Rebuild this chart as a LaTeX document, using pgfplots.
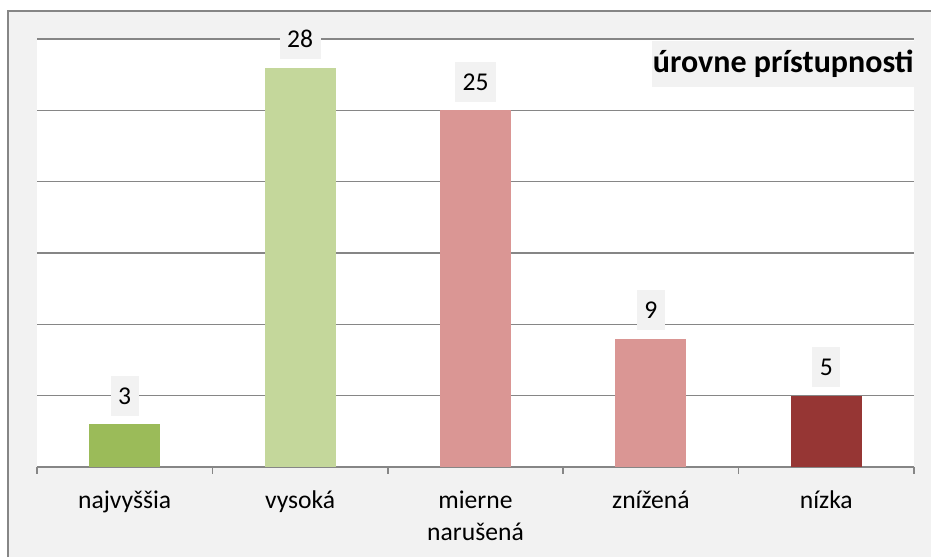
\documentclass[border=0pt]{standalone}
\usepackage{fontspec}
\setmainfont{Carlito}
\usepackage{pgfplots}
\pgfplotsset{compat=1.18}
\definecolor{bg}{HTML}{F2F2F2}
\definecolor{gridc}{HTML}{868686}
\definecolor{cA}{HTML}{9BBB59}
\definecolor{cB}{HTML}{C4D79B}
\definecolor{cC}{HTML}{DA9694}
\definecolor{cD}{HTML}{DA9694}
\definecolor{cE}{HTML}{963634}
\begin{document}
\begin{tikzpicture}
\useasboundingbox (0,0) rectangle (465.5pt,278.5pt);
\fill[white] (0,0) rectangle (465.5pt,278.5pt);
\fill[bg] (4pt,0) rectangle (465.5pt,273pt);
\draw[gridc, line width=1pt] (4pt,0) -- (4pt,273pt) -- (465.5pt,273pt);
\begin{axis}[
  at={(18.5pt,45pt)}, anchor=south west, scale only axis,
  width=438.5pt, height=214pt,
  xmin=-0.5, xmax=4.5, ymin=0, ymax=30,
  /pgf/number format/assume math mode=true,
  axis background/.style={fill=white},
  axis x line*=bottom, axis y line*=left,
  x axis line style={draw=gridc, line width=0.75pt},
  y axis line style={draw=none},
  ytick={5,10,15,20,25,30}, yticklabels={},
  ytick style={draw=none},
  ymajorgrids, major grid style={draw=gridc, line width=0.75pt},
  xtick={-0.5,0.5,1.5,2.5,3.5,4.5},
  xticklabels={},
  xtick style={draw=gridc, line width=0.75pt},
  major tick length=3.5pt,
  tick align=outside,
  extra x ticks={0,1,2,3,4},
  extra x tick labels={\strut najvyššia,\strut vysoká,{\strut mierne\\\strut narušená},\strut znížená,\strut nízka},
  extra x tick style={major tick length=0pt, grid=none},
  x tick label style={font=\fontsize{12.8}{16}\selectfont, align=center, anchor=north, inner sep=0pt, yshift=-9.2pt},
  ybar, bar width=35.5pt, bar shift=0pt,
  nodes near coords,
  every node near coord/.append style={font=\fontsize{12.8}{15}\selectfont, fill=bg, inner xsep=3.75pt, inner ysep=5.75pt, text height=8.5pt, text depth=0pt, anchor=south, yshift=4pt, text=black},
]
\addplot[fill=cA, draw=none] coordinates {(0,3)};
\addplot[fill=cB, draw=none] coordinates {(1,28)};
\addplot[fill=cC, draw=none] coordinates {(2,25)};
\addplot[fill=cD, draw=none] coordinates {(3,9)};
\addplot[fill=cE, draw=none] coordinates {(4,5)};
\node[anchor=north east, fill=bg, font=\fontsize{16}{18}\selectfont\bfseries, inner xsep=0.5pt, inner ysep=0pt, minimum height=23pt, xshift=0.5pt, yshift=-0.75pt] at (rel axis cs:1,1) {úrovne prístupnosti};
\end{axis}
\end{tikzpicture}
\end{document}
